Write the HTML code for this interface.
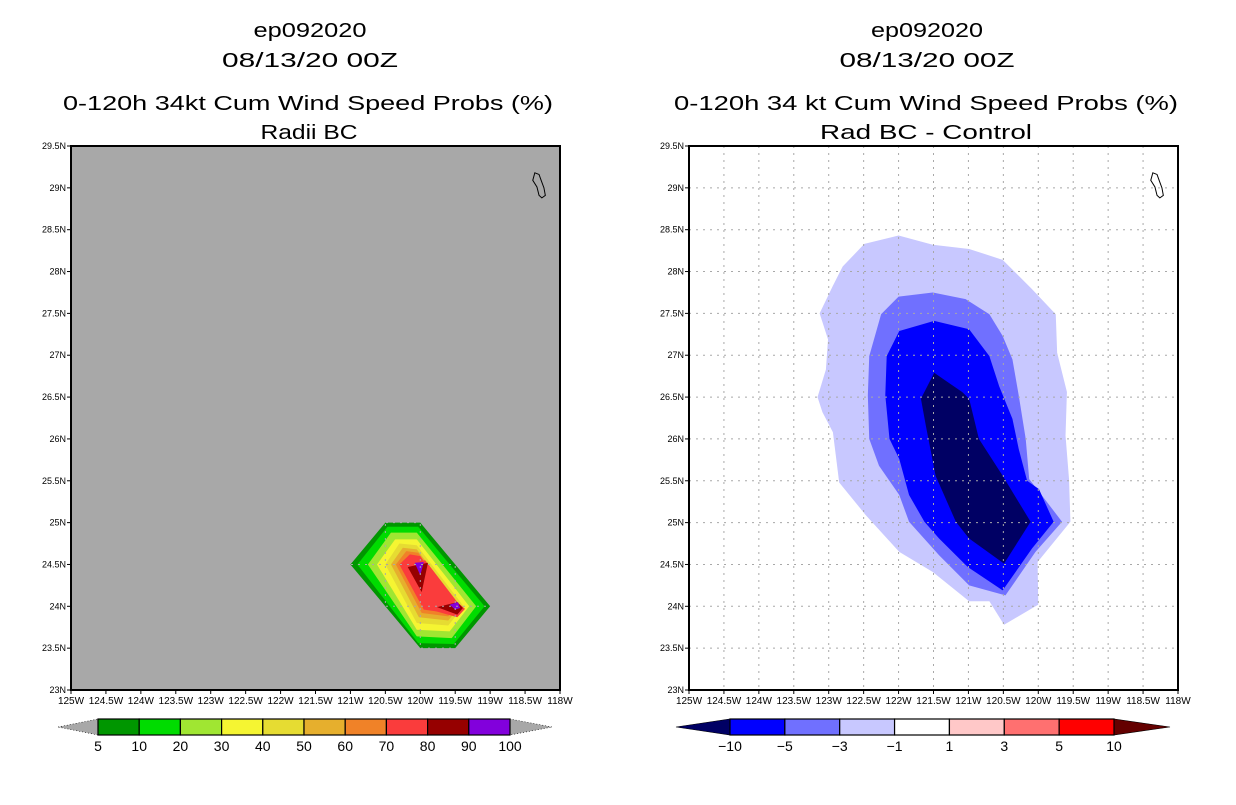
<!DOCTYPE html>
<html><head><meta charset="utf-8"><style>
body{margin:0;background:#fff;width:1236px;height:800px;overflow:hidden;font-family:"Liberation Sans",sans-serif}
svg text{font-family:"Liberation Sans",sans-serif}
</style></head><body>
<svg id="s" width="1236" height="800" xmlns="http://www.w3.org/2000/svg">
<g font-size="20" text-anchor="middle" fill="#000" lengthAdjust="spacingAndGlyphs">
<text x="310" y="37" textLength="113" lengthAdjust="spacingAndGlyphs">ep092020</text><text x="310" y="67" textLength="176" lengthAdjust="spacingAndGlyphs">08/13/20 00Z</text>
<text x="308" y="110" textLength="490" lengthAdjust="spacingAndGlyphs">0-120h 34kt Cum Wind Speed Probs (%)</text><text x="309" y="139" textLength="97" lengthAdjust="spacingAndGlyphs">Radii BC</text></g>
<g font-size="20" text-anchor="middle" fill="#000">
<text x="927" y="37" textLength="112" lengthAdjust="spacingAndGlyphs">ep092020</text><text x="927" y="67" textLength="175" lengthAdjust="spacingAndGlyphs">08/13/20 00Z</text>
<text x="926" y="110" textLength="504" lengthAdjust="spacingAndGlyphs">0-120h 34 kt Cum Wind Speed Probs (%)</text><text x="926" y="139" textLength="212" lengthAdjust="spacingAndGlyphs">Rad BC - Control</text></g>
</svg>
<script>
const lonTicks=[125,124.5,124,123.5,123,122.5,122,121.5,121,120.5,120,119.5,119,118.5,118];
const latTicks=[23,23.5,24,24.5,25,25.5,26,26.5,27,27.5,28,28.5,29,29.5];
const leftLevels=[5,10,20,30,40,50,60,70,80,90,100];
const leftColors=["#009600","#00dc00","#a0e632","#f5f532","#e6dc32","#e6af2d","#f08228","#fa3c3c","#960000","#8200dc"];
const rightLevels=[-10,-5,-3,-1,1,3,5,10];
const rightColors=["#000064","#0000ff","#7070ff","#c8c8ff","#ffffff","#ffc8c8","#ff7070","#ff0000"];
const L5=[[121,24.5],[120.5,25],[120,25],[119,24],[119.5,23.5],[120,23.5]];
const L10=[[120.9,24.5],[120.47,24.95],[120.03,24.95],[119.08,24.0],[119.52,23.55],[120.03,23.56]];
const L20=[[120.75,24.5],[120.42,24.88],[120.05,24.88],[119.2,24.0],[119.55,23.62],[120.05,23.64]];
const L30=[[120.62,24.5],[120.36,24.8],[120.05,24.8],[119.3,24.0],[119.58,23.7],[120.05,23.72]];
const L40=[[120.5,24.5],[120.3,24.75],[120.05,24.73],[119.38,24.0],[119.6,23.77],[120.05,23.8]];
const L50=[[120.42,24.5],[120.25,24.7],[120.05,24.68],[119.43,24.0],[119.6,23.83],[120.02,23.87]];
const L60=[[120.35,24.5],[120.2,24.66],[120.03,24.64],[119.48,24.0],[119.6,23.88],[119.98,23.92]];
const L70=[[120.3,24.5],[120.15,24.62],[120.0,24.6],[119.52,24.0],[119.6,23.92],[119.95,23.96]];
const L80=[[120.25,24.49],[119.93,24.55],[119.47,24.05],[119.36,23.97],[119.47,23.87],[119.86,23.96],[120.0,24.08]];
const L90a=[[120.18,24.47],[119.89,24.52],[119.98,24.17]];
const L90b=[[119.76,23.99],[119.47,24.05],[119.39,23.98],[119.47,23.9]];
const L100a=[[120.08,24.52],[119.95,24.53],[120.0,24.37]];
const L100b=[[119.58,24.02],[119.46,24.05],[119.43,23.98],[119.5,23.96]];
const R1=[[122.49,28.33],[122.0,28.43],[121.51,28.32],[120.99,28.27],[120.51,28.14],[120.09,27.79],[119.75,27.49],[119.73,27.03],[119.59,26.56],[119.61,26.04],[119.56,25.52],[119.54,25.01],[120.01,24.53],[120.0,24.02],[120.49,23.78],[120.7,24.06],[120.99,24.06],[121.51,24.41],[121.99,24.65],[122.47,25.09],[122.85,25.48],[122.94,26.08],[123.09,26.32],[123.16,26.5],[123.04,26.83],[123.01,27.19],[123.13,27.5],[122.94,27.83],[122.8,28.06]];
const R3=[[122.0,27.7],[121.51,27.75],[121.04,27.67],[120.7,27.49],[120.51,27.23],[120.37,26.95],[120.28,26.52],[120.18,26.0],[120.13,25.52],[119.99,25.37],[119.66,25.01],[120.04,24.65],[120.47,24.13],[120.99,24.25],[121.42,24.61],[121.85,25.01],[121.99,25.33],[122.28,25.68],[122.42,26.0],[122.44,26.52],[122.42,26.99],[122.25,27.49]];
const R5=[[121.99,27.29],[121.49,27.41],[120.99,27.31],[120.7,26.99],[120.56,26.63],[120.37,26.24],[120.28,25.88],[120.16,25.5],[119.99,25.4],[119.78,25.01],[120.09,24.69],[120.51,24.19],[121.01,24.47],[121.42,24.81],[121.63,25.01],[121.85,25.33],[121.99,25.76],[122.13,26.0],[122.19,26.52],[122.17,26.99]];
const R10=[[121.49,26.79],[121.09,26.56],[120.99,26.48],[120.85,26.0],[120.51,25.56],[120.11,25.01],[120.49,24.51],[120.99,24.81],[121.18,25.01],[121.47,25.56],[121.61,26.16],[121.68,26.48]];
const island=[[118.36,29.18],[118.3,29.16],[118.27,29.09],[118.23,29.0],[118.21,28.91],[118.26,28.88],[118.3,28.91],[118.33,29.01],[118.39,29.09],[118.37,29.15]];

const NS="http://www.w3.org/2000/svg",svg=document.getElementById('s');
function mk(t,a,p){const e=document.createElementNS(NS,t);for(const k in a)e.setAttribute(k,a[k]);(p||svg).appendChild(e);return e;}
function panel(x0,name,bg,gridCol,polys){
  const W=489,y0=146,H=544;
  const X=lon=>x0+(125-lon)/7*W, Y=lat=>y0+H-(lat-23)/6.5*H;
  const g=mk('g',{});
  
  
  const bgr=mk('rect',{x:x0,y:y0,width:W,height:H,fill:bg},g);
  
  
  polys.forEach(([pts,col,nm])=>{
    const p=mk('polygon',{points:pts.map(q=>X(q[0])+','+Y(q[1])).join(' '),fill:col},g);
    
    
  });
  lonTicks.slice(1,-1).forEach(l=>mk('line',{x1:X(l),x2:X(l),y1:y0,y2:y0+H,stroke:gridCol,'stroke-dasharray':'2,5'},g));
  latTicks.slice(1,-1).forEach(l=>mk('line',{x1:x0,x2:x0+W,y1:Y(l),y2:Y(l),stroke:gridCol,'stroke-dasharray':'2,5'},g));
  const is=mk('polygon',{points:island.map(q=>X(q[0])+','+Y(q[1])).join(' '),fill:'none',stroke:'#000','stroke-width':1},g);
  
  
  const fr=mk('rect',{x:x0,y:y0,width:W,height:H,fill:'none',stroke:'#000','stroke-width':2},g);
  
  
  lonTicks.forEach(l=>{mk('line',{x1:X(l),x2:X(l),y1:y0+H,y2:y0+H+4,stroke:'#000'},g);
    const t=mk('text',{x:X(l),y:704,'font-size':10,'text-anchor':'middle'},g);t.textContent=l+'W';
    
    });
  latTicks.forEach(l=>{mk('line',{x1:x0-4,x2:x0,y1:Y(l),y2:Y(l),stroke:'#000'},g);
    const t=mk('text',{x:x0-5,y:Y(l)+3,'font-size':9,'text-anchor':'end'},g);t.textContent=l+'N';
    
    });
}
panel(71,'left-map','#a8a8a8','#a8a8a8',[[L5,leftColors[0],'contour-5'],[L10,leftColors[1],'contour-10'],[L20,leftColors[2],'contour-20'],[L30,leftColors[3],'contour-30'],[L40,leftColors[4],'contour-40'],[L50,leftColors[5],'contour-50'],[L60,leftColors[6],'contour-60'],[L70,leftColors[7],'contour-70'],[L80,leftColors[7],'contour-80'],[L90a,leftColors[8],'contour-90a'],[L90b,leftColors[8],'contour-90b'],[L100a,leftColors[9],'contour-100a'],[L100b,leftColors[9],'contour-100b']]);
panel(689,'right-map','#ffffff','#a8a8a8',[[R1,rightColors[3],'contour-minus1'],[R3,rightColors[2],'contour-minus3'],[R5,rightColors[1],'contour-minus5'],[R10,rightColors[0],'contour-minus10']]);

function colorbar(x0,x1,tl,tr,colors,labels,lcol,rcol,name,dense){
  const g=mk('g',{});
  
  
  const y0=719,y1=735,n=colors.length,w=(x1-x0)/n;
  mk('polygon',{points:`${tl},727 ${x0},${y0} ${x0},${y1}`,fill:lcol,stroke:'#000','stroke-dasharray':dense?'':'1,2','stroke-width':0.6},g);
  mk('polygon',{points:`${tr},727 ${x1},${y0} ${x1},${y1}`,fill:rcol,stroke:'#000','stroke-dasharray':dense?'':'1,2','stroke-width':0.6},g);
  colors.forEach((c,i)=>{const r=mk('rect',{x:x0+i*w,y:y0,width:w,height:y1-y0,fill:c,stroke:'#000','stroke-width':1.2},g);
    
    });
  labels.forEach((l,i)=>{const t=mk('text',{x:x0+i*w,y:751,'font-size':14,'text-anchor':'middle'},g);t.textContent=String(l).replace('-','\u2212');
    
    });
}
colorbar(98,510,58,552,leftColors,leftLevels,'#a8a8a8','#a8a8a8','left-colorbar',false);
colorbar(730,1114,676,1170,rightColors.slice(1),rightLevels,'#000064','#640000','right-colorbar',true);
</script>
</body></html>
